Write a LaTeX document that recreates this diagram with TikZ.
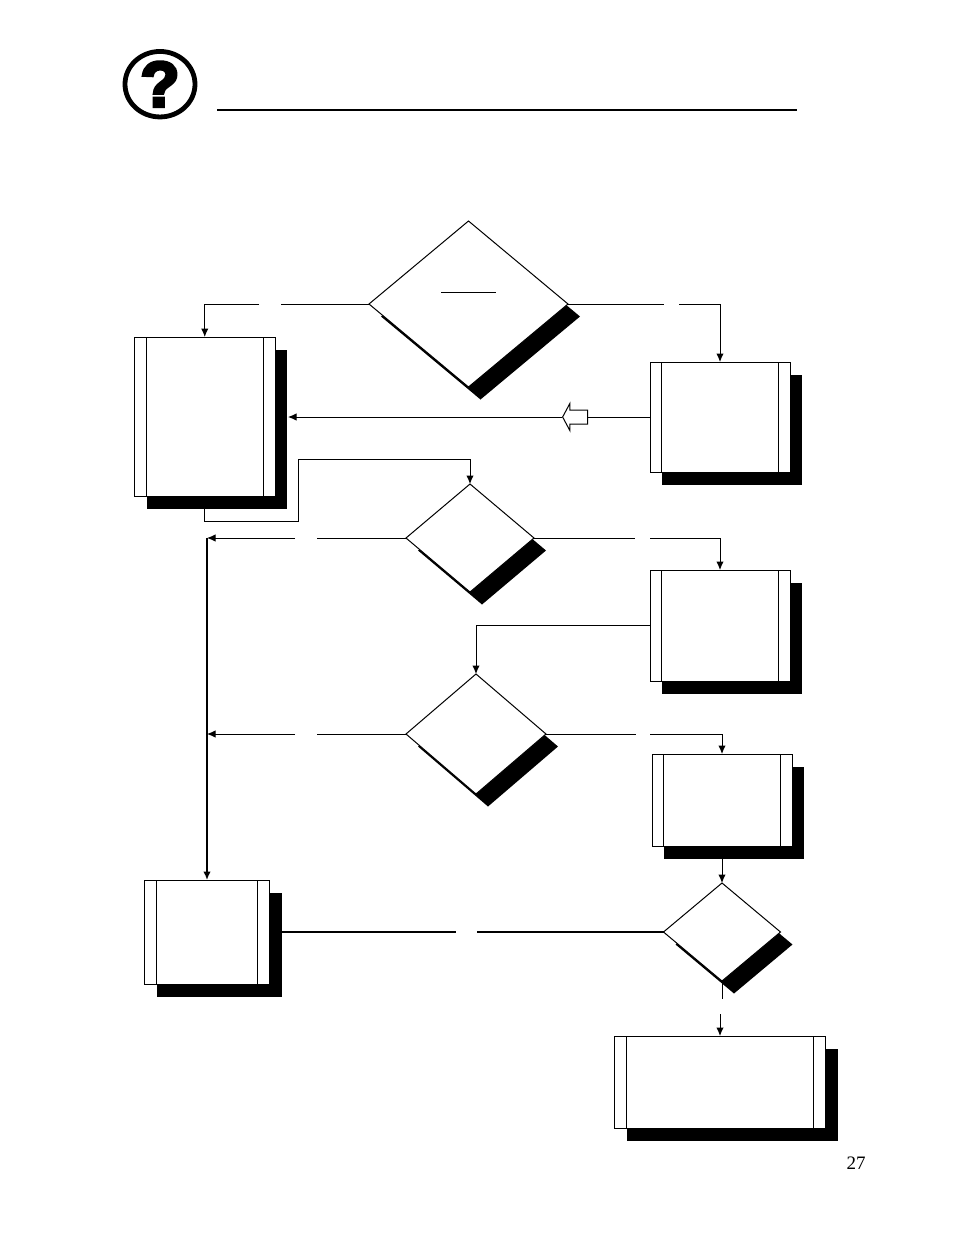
\documentclass[tikz,border=0pt]{standalone}
\usepackage{fontspec}
\setmainfont{Liberation Serif}
\newfontfamily\iconfont[FakeBold=5]{Liberation Sans Bold}
\usetikzlibrary{arrows.meta,shadows,shapes.geometric,shapes.arrows}
\tikzset{
  flow/.style={line width=1pt},
  flowto/.style={flow,-{Latex[length=8.5pt,width=7.5pt]}},
  blackshadow/.style={drop shadow={shadow xshift=12pt,shadow yshift=-12.5pt,opacity=1,fill=black}},
  flowbox/.style={draw,fill=white,line width=1pt,inner sep=0pt,outer sep=0pt,blackshadow,
    path picture={
      \draw[line width=1pt] ([xshift=11.5pt]path picture bounding box.north west) -- ([xshift=11.5pt]path picture bounding box.south west);
      \draw[line width=1pt] ([xshift=-12pt]path picture bounding box.north east) -- ([xshift=-12pt]path picture bounding box.south east);
    }},
  flowdiamond/.style={diamond,draw,fill=white,line width=1pt,inner sep=0pt,outer sep=0pt,blackshadow},
}
\begin{document}
\begin{tikzpicture}[x=1pt,y=-1pt]
  \useasboundingbox (0,0) rectangle (954,1235);
  % header
  \node[ellipse,draw,line width=4.8pt,minimum width=70pt,minimum height=65.5pt,inner sep=0pt] (icon) at (160,84.2)
    {\iconfont\fontsize{64}{64}\selectfont ?};
  \coordinate (rulea) at (217,110);
  \coordinate (ruleb) at (797,110);
  \draw[line width=2pt] (rulea) -- (ruleb);
  % shapes
  \node[flowdiamond,minimum width=199pt,minimum height=166pt] (d1) at (468.5,304) {};
  \node[flowdiamond,minimum width=128pt,minimum height=108pt] (d2) at (470,538) {};
  \node[flowdiamond,minimum width=140pt,minimum height=120pt] (d3) at (476,734) {};
  \node[flowdiamond,minimum width=117pt,minimum height=98pt] (d4) at (722,932) {};
  \node[flowbox,minimum width=140.5pt,minimum height=159pt] (box1) at (204.75,416.5) {};
  \node[flowbox,minimum width=140pt,minimum height=110pt] (box2) at (720,417) {};
  \node[flowbox,minimum width=140pt,minimum height=111pt] (box3) at (720,625.5) {};
  \node[flowbox,minimum width=140pt,minimum height=92pt] (box4) at (722,800) {};
  \node[flowbox,minimum width=125pt,minimum height=104pt] (box5) at (207,932) {};
  \node[flowbox,minimum width=211pt,minimum height=92pt] (box6) at (720,1082) {};
  \node[single arrow,draw,fill=white,line width=1pt,minimum width=26pt,minimum height=25pt,
    inner xsep=0pt,inner ysep=6.5pt,single arrow head extend=6.5pt,single arrow tip angle=124,
    shape border rotate=180] (hollow) at (577,417) {};
  \draw[line width=1pt] (441,292) coordinate (bara) -- (495.5,292) coordinate (barb);
  % free ends
  \coordinate (gap1a) at (281,304);
  \coordinate (gap1b) at (259,304);
  \coordinate (gap2a) at (664,304);
  \coordinate (gap2b) at (679,304);
  \coordinate (gap3a) at (317,538);
  \coordinate (gap3b) at (295,538);
  \coordinate (gap4a) at (635,538);
  \coordinate (gap4b) at (650,538);
  \coordinate (gap5a) at (317,734);
  \coordinate (gap5b) at (295,734);
  \coordinate (gap6a) at (636,734);
  \coordinate (gap6b) at (650,734);
  \coordinate (gap7a) at (456,932);
  \coordinate (gap7b) at (477,932);
  \coordinate (gap8a) at (722,999);
  \coordinate (gap8b) at (720,1014);
  \coordinate (edge1) at (288,417);
  \coordinate (edge5) at (282,932);
  \coordinate (loopa) at (298.5,521);
  \coordinate (loopb) at (298.5,459);
  \coordinate (trunka) at (207,538);
  \coordinate (trunkb) at (207,734);
  % connectors
  \begin{scope}[flow]
    \draw (d1.west) -- (gap1a);
    \draw (d1.east) -- (gap2a);
    \draw (d2.east) -- (gap4a);
    \draw (d2.west) -- (gap3a);
    \draw (d3.west) -- (gap5a);
    \draw (d3.east) -- (gap6a);
    \draw (box2.west) -- (hollow.tail);
    \draw (d4.south) -- (gap8a);
  \end{scope}
  \draw[flowto] (gap1b) -| (box1.north);
  \draw[flowto] (gap2b) -| (box2.north);
  \draw[flowto] (hollow.tip) -- (edge1);
  \draw[flowto] (box1.south) |- (loopa) -- (loopb) -| (d2.north);
  \draw[flowto] (gap3b) -- (trunka);
  \draw[flowto] (gap4b) -| (box3.north);
  \draw[flowto] (box3.west) -| (d3.north);
  \draw[flowto] (gap5b) -- (trunkb);
  \draw[flowto] (gap6b) -| (box4.north);
  \draw[flowto] (box4.south) -- (d4.north);
  \draw[flowto] (gap8b) -- (box6.north);
  \draw[line width=1.6pt,-{Latex[length=8.5pt,width=7.5pt]}] (trunka) -- (box5.north);
  \draw[line width=1.4pt] (edge5) -- (gap7a);
  \draw[line width=1.4pt] (gap7b) -- (d4.west);
  % page number
  \node[font=\fontsize{19}{19}\selectfont,inner sep=0pt] (pagenum) at (856,1162.8) {27};
\end{tikzpicture}
\end{document}
